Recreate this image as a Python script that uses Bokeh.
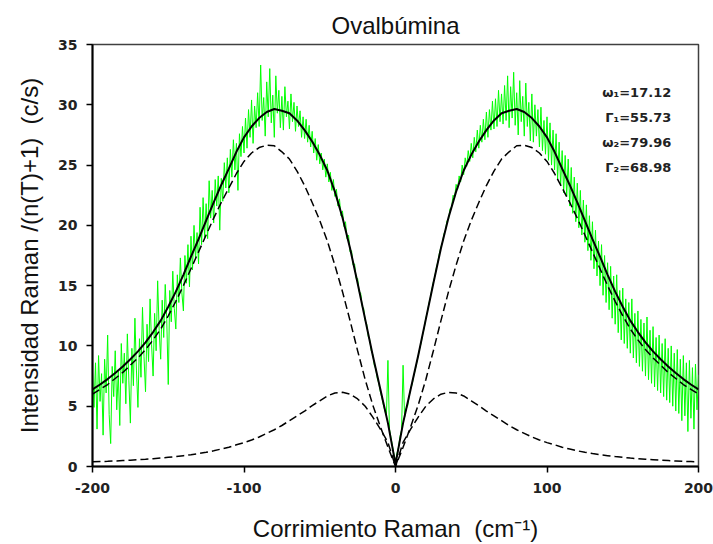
from bokeh.plotting import figure
from bokeh.models import Label, Range1d, FixedTicker
from bokeh.embed import file_html
from bokeh.resources import INLINE

# ---------------- data ----------------
title_text = "Ovalbúmina"
x_label = "Corrimiento Raman\u00a0\u00a0(cm⁻¹)"
y_label = "Intensidad Raman /(n(T)+1)\u00a0\u00a0(c/s)"
x_ticks = [-200, -100, 0, 100, 200]
x_tick_labels = ["-200", "-100", "0", "100", "200"]
y_ticks = [0, 5, 10, 15, 20, 25, 30, 35]
param_labels = ["ω₁=17.12", "Γ₁=55.73", "ω₂=79.96", "Γ₂=68.98"]

# fit curves (every 5 cm-1)
fit_x = [-200, -195, -190, -185, -180, -175, -170, -165, -160, -155,
         -150, -145, -140, -135, -130, -125, -120, -115, -110, -105,
         -100, -95, -90, -85, -80, -75, -70, -65, -60, -55,
         -50, -45, -40, -35, -30, -25, -20, -15, -10, -5,
         0,
         5, 10, 15, 20, 25, 30, 35, 40, 45, 50,
         55, 60, 65, 70, 75, 80, 85, 90, 95, 100,
         105, 110, 115, 120, 125, 130, 135, 140, 145, 150,
         155, 160, 165, 170, 175, 180, 185, 190, 195, 200]

comp1 = [0.39, 0.41, 0.43, 0.46, 0.49, 0.52, 0.56, 0.6, 0.65, 0.7,
         0.76, 0.82, 0.9, 0.98, 1.07, 1.18, 1.3, 1.45, 1.6, 1.8,
         1.98, 2.2, 2.45, 2.75, 3.05, 3.4, 3.8, 4.2, 4.6, 5.05,
         5.45, 5.85, 6.1, 6.15, 6.0, 5.6, 5.0, 4.1, 3.1, 2.0,
         0.0,
         2.0, 3.1, 4.1, 5.0, 5.6, 6.0, 6.15, 6.1, 5.85, 5.45,
         5.05, 4.6, 4.2, 3.8, 3.4, 3.05, 2.75, 2.45, 2.2, 1.98,
         1.8, 1.6, 1.45, 1.3, 1.18, 1.07, 0.98, 0.9, 0.82, 0.76,
         0.7, 0.65, 0.6, 0.56, 0.52, 0.49, 0.46, 0.43, 0.41, 0.39]

comp2 = [6.0, 6.4, 6.8, 7.3, 7.8, 8.4, 9.0, 9.7, 10.5, 11.4,
         12.5, 13.7, 15.0, 16.4, 17.8, 19.2, 20.6, 21.9, 23.1, 24.3,
         25.3, 26.0, 26.45, 26.65, 26.6, 26.1, 25.5, 24.5, 23.3, 21.9,
         20.4, 18.7, 16.7, 14.5, 12.1, 9.6, 7.2, 5.1, 3.3, 1.6,
         0.0,
         1.6, 3.3, 5.1, 7.2, 9.6, 12.1, 14.5, 16.7, 18.7, 20.4,
         21.9, 23.3, 24.5, 25.5, 26.1, 26.6, 26.65, 26.45, 26.0, 25.3,
         24.3, 23.1, 21.9, 20.6, 19.2, 17.8, 16.4, 15.0, 13.7, 12.5,
         11.4, 10.5, 9.7, 9.0, 8.4, 7.8, 7.3, 6.8, 6.4, 6.0]

fit_total = [6.4, 6.8, 7.25, 7.75, 8.3, 8.9, 9.55, 10.3, 11.15, 12.1,
             13.25, 14.5, 15.9, 17.4, 18.85, 20.4, 21.9, 23.35, 24.7, 26.1,
             27.3, 28.2, 28.9, 29.4, 29.65, 29.5, 29.3, 28.7, 27.9, 26.95,
             25.85, 24.55, 22.8, 20.65, 18.1, 15.2, 12.2, 9.2, 6.4, 3.6,
             0.2,
             3.6, 6.4, 9.2, 12.2, 15.2, 18.1, 20.65, 22.8, 24.55, 25.85,
             26.95, 27.9, 28.7, 29.3, 29.5, 29.65, 29.4, 28.9, 28.2, 27.3,
             26.1, 24.7, 23.35, 21.9, 20.4, 18.85, 17.4, 15.9, 14.5, 13.25,
             12.1, 11.15, 10.3, 9.55, 8.9, 8.3, 7.75, 7.25, 6.8, 6.4]

# measured spectrum (every 1 cm-1)
spec_x = [
    -200, -199, -198, -197, -196, -195, -194, -193, -192, -191,
    -190, -189, -188, -187, -186, -185, -184, -183, -182, -181,
    -180, -179, -178, -177, -176, -175, -174, -173, -172, -171,
    -170, -169, -168, -167, -166, -165, -164, -163, -162, -161,
    -160, -159, -158, -157, -156, -155, -154, -153, -152, -151,
    -150, -149, -148, -147, -146, -145, -144, -143, -142, -141,
    -140, -139, -138, -137, -136, -135, -134, -133, -132, -131,
    -130, -129, -128, -127, -126, -125, -124, -123, -122, -121,
    -120, -119, -118, -117, -116, -115, -114, -113, -112, -111,
    -110, -109, -108, -107, -106, -105, -104, -103, -102, -101,
    -100, -99, -98, -97, -96, -95, -94, -93, -92, -91,
    -90, -89, -88, -87, -86, -85, -84, -83, -82, -81,
    -80, -79, -78, -77, -76, -75, -74, -73, -72, -71,
    -70, -69, -68, -67, -66, -65, -64, -63, -62, -61,
    -60, -59, -58, -57, -56, -55, -54, -53, -52, -51,
    -50, -49, -48, -47, -46, -45, -44, -43, -42, -41,
    -40, -39, -38, -37, -36, -35, -34, -33, -32, -31,
    -30, -29, -28, -27, -26, -25, -24, -23, -22, -21,
    -20, -19, -18, -17, -16, -15, -14, -13, -12, -11,
    -10, -9, -8, -7, -6, -5, -4, -3, -2, -1,
    0,
    1, 2, 3, 4, 5, 6, 7, 8, 9, 10,
    11, 12, 13, 14, 15, 16, 17, 18, 19, 20,
    21, 22, 23, 24, 25, 26, 27, 28, 29, 30,
    31, 32, 33, 34, 35, 36, 37, 38, 39, 40,
    41, 42, 43, 44, 45, 46, 47, 48, 49, 50,
    51, 52, 53, 54, 55, 56, 57, 58, 59, 60,
    61, 62, 63, 64, 65, 66, 67, 68, 69, 70,
    71, 72, 73, 74, 75, 76, 77, 78, 79, 80,
    81, 82, 83, 84, 85, 86, 87, 88, 89, 90,
    91, 92, 93, 94, 95, 96, 97, 98, 99, 100,
    101, 102, 103, 104, 105, 106, 107, 108, 109, 110,
    111, 112, 113, 114, 115, 116, 117, 118, 119, 120,
    121, 122, 123, 124, 125, 126, 127, 128, 129, 130,
    131, 132, 133, 134, 135, 136, 137, 138, 139, 140,
    141, 142, 143, 144, 145, 146, 147, 148, 149, 150,
    151, 152, 153, 154, 155, 156, 157, 158, 159, 160,
    161, 162, 163, 164, 165, 166, 167, 168, 169, 170,
    171, 172, 173, 174, 175, 176, 177, 178, 179, 180,
    181, 182, 183, 184, 185, 186, 187, 188, 189, 190,
    191, 192, 193, 194, 195, 196, 197, 198, 199, 200]

spec_y = [
    7.8, 4.9, 8.6, 3.1, 9.2, 5.4, 7.7, 2.6, 8.9, 6.1,
    10.9, 4.3, 1.9, 8.3, 5.8, 9.6, 4.7, 7.9, 3.4, 10.2,
    6.9, 9.4, 5.2, 11.0, 7.1, 3.6, 9.8, 6.7, 12.3, 8.0,
    4.9, 10.6, 7.4, 13.2, 9.1, 6.2, 11.8, 8.7, 13.9, 10.1,
    7.5, 12.7, 9.6, 15.4, 11.3, 8.9, 13.8, 10.7, 15.1, 12.2,
    6.8, 14.6, 12.0, 16.2, 13.1, 11.4, 15.9, 13.6, 17.3, 14.4,
    12.9, 17.5, 15.2, 18.4, 14.9, 19.1, 16.3, 20.0, 17.2, 19.4,
    16.8, 21.5, 18.4, 22.3, 19.0, 21.8, 18.9, 23.7, 20.6, 22.9,
    20.2, 23.8, 21.6, 24.1, 19.6, 23.9, 22.0, 25.2, 23.1, 25.6,
    22.7, 26.3, 24.0, 27.1, 24.6, 26.8, 22.9, 27.6, 25.7, 28.2,
    26.0, 28.9, 26.4, 29.6, 27.3, 30.4, 26.8, 29.9, 28.1, 31.0,
    28.2, 33.3, 28.7, 30.6, 27.4, 31.9, 29.0, 33.0, 28.5, 30.8,
    27.3, 32.4, 29.3, 31.2, 28.1, 30.7, 27.9, 31.5, 29.0, 30.3,
    28.0, 30.9, 28.6, 30.2, 27.8, 29.9, 28.2, 29.5, 27.3, 29.0,
    27.2, 28.8, 26.9, 28.3, 26.5, 27.8, 26.0, 27.2, 25.4, 26.7,
    25.1, 26.0, 24.6, 25.5, 24.0, 25.1, 23.6, 24.4, 22.9, 23.8,
    22.4, 23.0, 21.6, 22.2, 20.8, 21.2, 19.9, 20.3, 18.9, 19.2,
    17.8, 17.9, 16.7, 16.8, 15.6, 15.6, 14.5, 14.4, 13.3, 13.1,
    12.1, 11.8, 10.8, 10.5, 9.6, 9.3, 8.4, 8.1, 7.3, 6.9,
    6.2, 5.7, 5.1, 4.6, 4.2, 8.8, 3.1, 2.4, 1.7, 1.0,
    0.4,
    1.1, 1.6, 2.5, 3.0, 8.4, 4.1, 4.8, 5.0, 5.8, 6.5,
    6.8, 7.5, 8.0, 8.6, 9.2, 9.8, 10.3, 11.0, 11.5, 12.3,
    12.8, 13.5, 14.0, 14.7, 15.3, 15.8, 16.5, 17.0, 17.7, 18.2,
    18.6, 19.3, 19.6, 20.4, 20.5, 21.4, 21.5, 22.5, 22.3, 23.4,
    23.0, 24.1, 23.6, 25.0, 24.2, 25.6, 24.9, 26.2, 25.3, 26.8,
    25.6, 27.3, 26.1, 27.9, 26.4, 28.3, 26.9, 28.8, 27.1, 29.4,
    27.3, 29.6, 27.9, 30.3, 28.0, 30.5, 28.2, 31.2, 28.6, 30.9,
    28.4, 31.6, 28.7, 32.4, 28.1, 31.5, 28.9, 32.7, 28.3, 31.0,
    27.5, 32.0, 28.6, 30.7, 27.4, 31.8, 28.2, 30.2, 27.0, 30.9,
    26.9, 30.0, 27.4, 29.6, 26.5, 29.8, 26.2, 28.7, 25.9, 29.0,
    25.4, 28.5, 25.0, 27.9, 24.6, 27.6, 23.8, 26.9, 23.3, 26.2,
    22.7, 25.8, 22.4, 25.5, 21.6, 24.8, 21.0, 24.0, 20.3, 23.5,
    19.8, 22.9, 19.2, 22.1, 18.6, 21.7, 17.9, 20.8, 17.1, 20.3,
    16.4, 19.6, 15.8, 18.7, 15.0, 18.4, 14.2, 17.5, 13.6, 16.9,
    13.0, 16.6, 12.3, 15.8, 11.8, 15.9, 11.1, 14.6, 10.5, 14.8,
    10.2, 13.9, 9.8, 13.6, 9.4, 13.9, 9.0, 12.7, 8.6, 12.9,
    8.3, 12.2, 7.9, 11.9, 7.5, 12.4, 7.2, 11.3, 6.9, 11.6,
    6.6, 10.7, 6.3, 10.9, 6.1, 10.2, 5.8, 10.6, 5.5, 9.8,
    5.3, 10.0, 5.0, 9.4, 4.6, 9.7, 4.4, 8.9, 3.8, 9.2,
    4.2, 8.6, 2.9, 8.8, 4.0, 8.2, 3.1, 8.5, 4.7, 7.6]

# ---------------- figure ----------------
FONT = "Liberation Sans"
SMALL_FONT = "DejaVu Sans"

p = figure(width=713, height=544, output_backend="svg", toolbar_location=None,
           x_range=Range1d(-200, 200), y_range=Range1d(0, 35),
           min_border_left=92, min_border_right=15,
           min_border_top=44, min_border_bottom=77)

p.title.text = title_text
p.title.align = "center"
p.title.text_font = FONT
p.title.text_font_size = "24px"
p.title.text_font_style = "normal"
p.title.text_color = "#111111"
p.title.standoff = 11

p.xgrid.visible = False
p.ygrid.visible = False
p.background_fill_color = "white"
p.border_fill_color = "white"
p.outline_line_color = "#404040"
p.outline_line_width = 1.5

p.xaxis.ticker = FixedTicker(ticks=x_ticks)
p.xaxis.major_label_overrides = dict(zip(x_ticks, x_tick_labels))
p.yaxis.ticker = FixedTicker(ticks=y_ticks)
for ax in (p.xaxis, p.yaxis):
    ax.axis_line_width = 2
    ax.axis_line_color = "black"
    ax.major_tick_line_width = 1.5
    ax.major_tick_line_color = "black"
    ax.major_tick_out = 6
    ax.major_tick_in = 0
    ax.minor_tick_line_color = None
    ax.major_label_text_font = SMALL_FONT
    ax.major_label_text_font_size = "14px"
    ax.major_label_text_font_style = "bold"
    ax.major_label_text_color = "#222222"
    ax.axis_label_text_font = FONT
    ax.axis_label_text_font_size = "24px"
    ax.axis_label_text_font_style = "normal"
    ax.axis_label_text_color = "#111111"

p.xaxis.axis_label = x_label
p.yaxis.axis_label = y_label
p.xaxis.major_label_standoff = 10
p.xaxis.axis_label_standoff = 19
p.yaxis.major_label_standoff = 9
p.yaxis.axis_label_standoff = 12

# measured spectrum
p.line(spec_x, spec_y, line_color="#00FF00", line_width=1)
# components
p.line(fit_x, comp1, line_color="black", line_width=1.5, line_dash="8 4")
p.line(fit_x, comp2, line_color="black", line_width=1.5, line_dash="8 4")
# total fit
p.line(fit_x, fit_total, line_color="black", line_width=2)

# fit parameters
for txt, yy in zip(param_labels, [31.0, 28.95, 26.9, 24.8]):
    p.add_layout(Label(x=182, y=yy, text=txt, text_align="right",
                       text_baseline="middle", text_font=SMALL_FONT,
                       text_font_size="13px", text_font_style="bold",
                       text_color="#222222"))

open("out.html", "w").write(file_html(p, INLINE))
